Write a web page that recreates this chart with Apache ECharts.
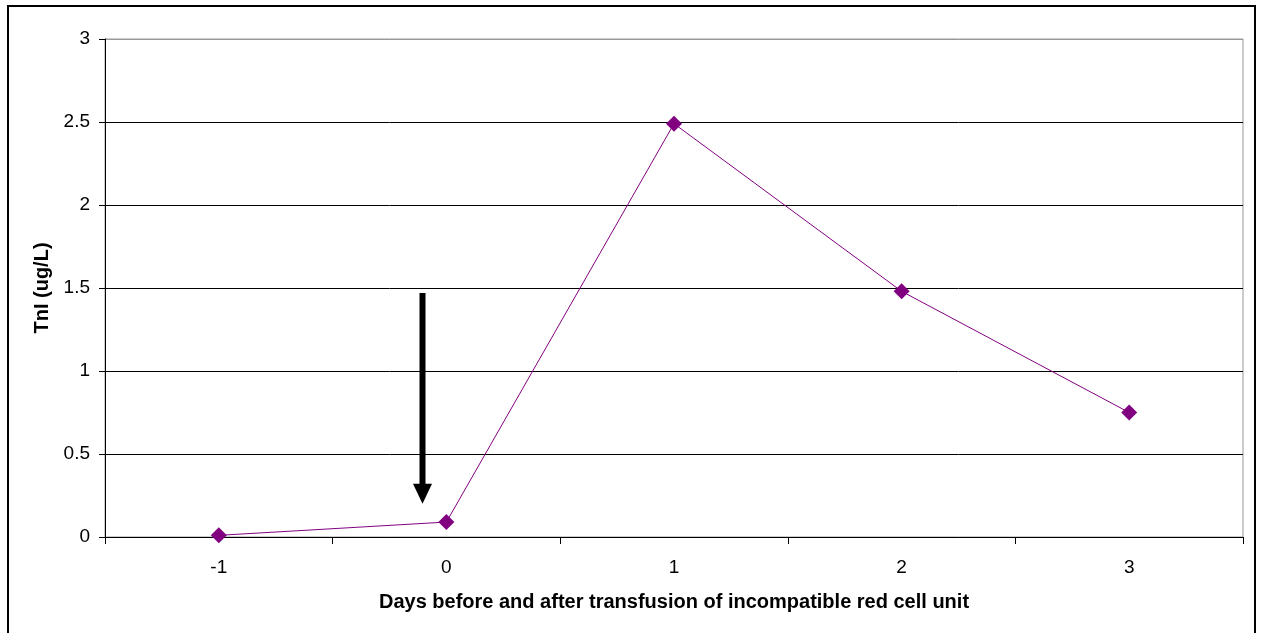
<!DOCTYPE html>
<html>
<head>
<meta charset="utf-8">
<script src="https://cdn.jsdelivr.net/npm/echarts@6/dist/echarts.min.js"></script>
<style>html,body{margin:0;padding:0;background:#fff;}#c{width:1261px;height:633px;}</style>
</head>
<body>
<div id="c"></div>
<script>
const categories = ['-1', '0', '1', '2', '3'];
const tniValues = [0.01, 0.09, 2.49, 1.48, 0.75];
const yTicks = [0, 0.5, 1, 1.5, 2, 2.5, 3];
const arrowFrom = 1.47;
const arrowTo = 0.2;

const chart = echarts.init(document.getElementById('c'));
const font = 'Liberation Sans, Arial, sans-serif';
chart.setOption({
  animation: false,
  backgroundColor: '#fff',
  grid: { left: 105, right: 18, top: 39, bottom: 96, show: true, borderColor: '#999', borderWidth: 1 },
  xAxis: {
    type: 'category',
    data: categories,
    boundaryGap: true,
    name: 'Days before and after transfusion of incompatible red cell unit',
    nameLocation: 'middle',
    nameGap: 55,
    nameTextStyle: { fontFamily: font, fontWeight: 'bold', fontSize: 20, color: '#000' },
    axisLine: { lineStyle: { color: '#000', width: 1 } },
    axisTick: { show: true, length: 7, lineStyle: { color: '#000' } },
    axisLabel: { fontFamily: font, fontSize: 19, color: '#000', margin: 21 },
    splitLine: { show: false }
  },
  yAxis: {
    type: 'value',
    min: 0, max: 3, interval: 0.5,
    name: 'TnI (ug/L)',
    nameLocation: 'middle',
    nameGap: 47,
    nameTextStyle: { fontFamily: font, fontWeight: 'bold', fontSize: 20, color: '#000' },
    axisLine: { show: true, lineStyle: { color: '#000', width: 1 } },
    axisTick: { show: true, length: 6, lineStyle: { color: '#000' } },
    axisLabel: { fontFamily: font, fontSize: 19, color: '#000', margin: 15,
      formatter: v => (yTicks.indexOf(v) >= 0 ? String(v) : '') },
    splitLine: { show: true, lineStyle: { color: ['#000','#000','#000','#000','#000','#000','#999'], width: 1 } }
  },
  graphic: [],
  series: [{
    type: 'line',
    data: tniValues,
    symbol: 'diamond',
    symbolSize: 16,
    itemStyle: { color: '#800080' },
    lineStyle: { color: '#800080', width: 1 },
    z: 5
  }]
});

function drawExtras() {
  const p0 = chart.convertToPixel({ xAxisIndex: 0 }, 0);
  const p1 = chart.convertToPixel({ xAxisIndex: 0 }, 1);
  const ax = p0 + (p1 - p0) * 0.895;
  const yTop = chart.convertToPixel({ yAxisIndex: 0 }, arrowFrom);
  const yTip = chart.convertToPixel({ yAxisIndex: 0 }, arrowTo);
  const headH = 20, headW = 9.5;
  chart.setOption({
    graphic: [
      { type: 'rect', shape: { x: 8, y: 6, width: 1247, height: 640 }, style: { fill: 'none', stroke: '#000', lineWidth: 2 }, silent: true, z: 100 },
      { type: 'rect', shape: { x: ax - 3, y: yTop, width: 6, height: yTip - yTop - headH + 1 }, style: { fill: '#000' }, z: 50 },
      { type: 'polygon', shape: { points: [[ax - headW, yTip - headH], [ax + headW, yTip - headH], [ax, yTip]] }, style: { fill: '#000' }, z: 50 }
    ]
  });
}
drawExtras();
</script>
</body>
</html>
